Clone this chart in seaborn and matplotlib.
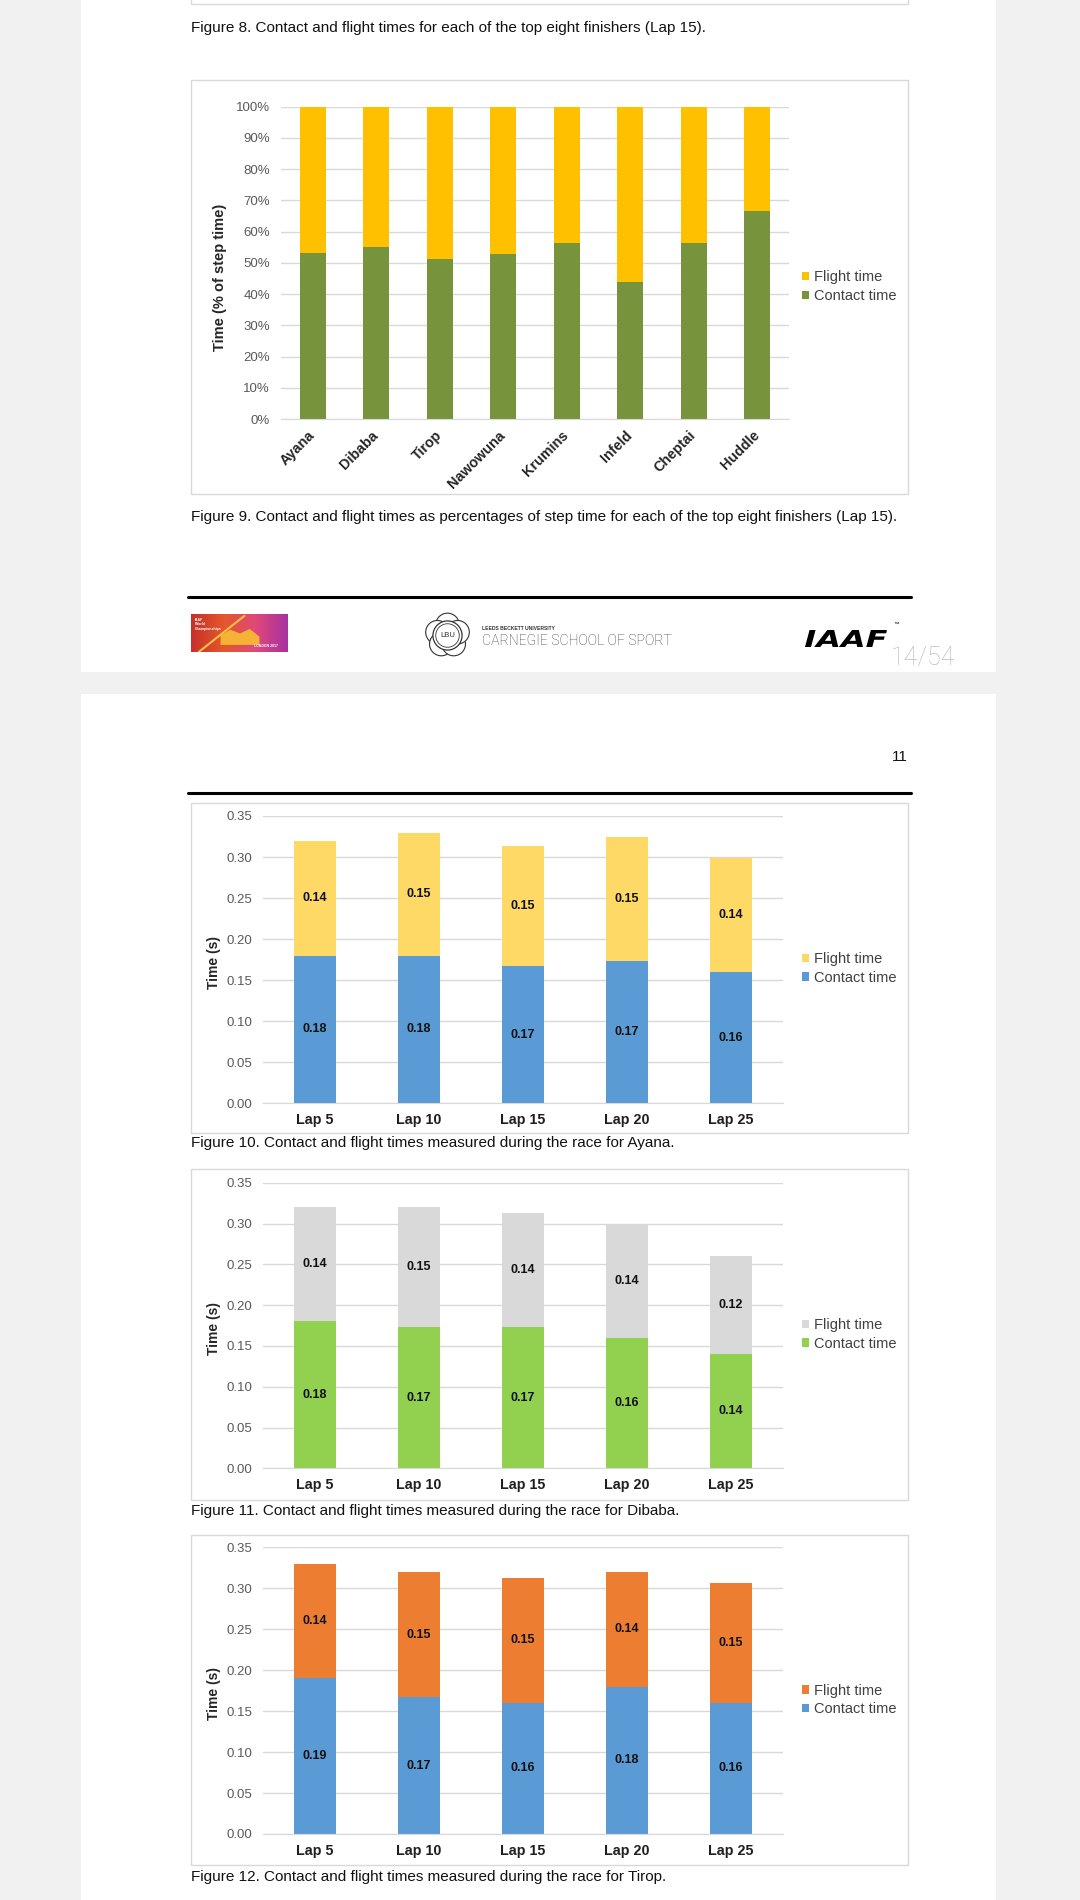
import numpy as np
import seaborn as sns
from matplotlib import pyplot as plt
from matplotlib.patches import Rectangle, Circle, PathPatch
from matplotlib.lines import Line2D
from matplotlib.colors import LinearSegmentedColormap
from matplotlib.textpath import TextPath
from matplotlib.font_manager import FontProperties
from matplotlib.transforms import Affine2D
from matplotlib.ticker import PercentFormatter, MultipleLocator, FormatStrFormatter

# Figure 9 - % of step time, lap 15
finishers = ['Ayana', 'Dibaba', 'Tirop', 'Nawowuna', 'Krumins', 'Infeld', 'Cheptai', 'Huddle']
contact_pct = [53.1, 55.2, 51.1, 52.9, 56.2, 43.8, 56.2, 66.6]
flight_pct = [46.9, 44.8, 48.9, 47.1, 43.8, 56.2, 43.8, 33.4]

# Figures 10-12 - seconds per lap
laps = ['Lap 5', 'Lap 10', 'Lap 15', 'Lap 20', 'Lap 25']
ayana_contact = [0.180, 0.180, 0.167, 0.173, 0.160]
ayana_flight = [0.140, 0.149, 0.146, 0.152, 0.139]
dibaba_contact = [0.180, 0.173, 0.173, 0.160, 0.140]
dibaba_flight = [0.140, 0.147, 0.140, 0.140, 0.120]
tirop_contact = [0.190, 0.167, 0.160, 0.180, 0.160]
tirop_flight = [0.140, 0.153, 0.153, 0.140, 0.147]

sns.set_style('white')
plt.rcParams['font.family'] = ['Liberation Sans', 'DejaVu Sans']

W, H = 1080, 1900
fig = plt.figure(figsize=(W / 100, H / 100), dpi=100)
fig.patch.set_facecolor('#F1F1F1')


def fy(y):
    return 1 - y / H


def rect(x0, y0, x1, y1):
    return [x0 / W, 1 - y1 / H, (x1 - x0) / W, (y1 - y0) / H]


def box(x0, y0, x1, y1, fc='white', ec='none', lw=0, z=-3):
    fig.add_artist(Rectangle((x0 / W, 1 - y1 / H), (x1 - x0) / W, (y1 - y0) / H,
                             transform=fig.transFigure, facecolor=fc, edgecolor=ec,
                             linewidth=lw, zorder=z))


def hline(y, x0, x1, lw=2.2):
    fig.add_artist(Line2D([x0 / W, x1 / W], [fy(y), fy(y)], transform=fig.transFigure,
                          color='black', lw=lw, zorder=-1))


def caption(y, s):
    fig.text(191 / W, fy(y), s, fontsize=11, va='center', ha='left', color='#111111')


# pages
box(81, -10, 996, 672)
box(81, 694, 996, 1910)

# chart frames
for y0, y1 in [(-10, 4), (80, 494), (803, 1133), (1169, 1500), (1535, 1865)]:
    box(191, y0, 908, y1, fc='white', ec='#D9D9D9', lw=1.0, z=-2)

caption(28, 'Figure 8. Contact and flight times for each of the top eight finishers (Lap 15).')
caption(517, 'Figure 9. Contact and flight times as percentages of step time for each of the top eight finishers (Lap 15).')
caption(1143, 'Figure 10. Contact and flight times measured during the race for Ayana.')
caption(1511, 'Figure 11. Contact and flight times measured during the race for Dibaba.')
caption(1877, 'Figure 12. Contact and flight times measured during the race for Tirop.')
fig.text(908 / W, fy(757), '11', fontsize=11, ha='right', va='center', color='#111111')

hline(597, 188, 911)
hline(793, 188, 911)


def stacked(ax, cats, contact, flight, c_contact, c_flight, width):
    total = [c + f for c, f in zip(contact, flight)]
    sns.barplot(x=cats, y=total, color=c_flight, saturation=1, width=width,
                errorbar=None, linewidth=0, ax=ax, label='Flight time')
    sns.barplot(x=cats, y=contact, color=c_contact, saturation=1, width=width,
                errorbar=None, linewidth=0, ax=ax, label='Contact time')
    ax.set_xlim(-0.5, len(cats) - 0.5)
    ax.set_facecolor('none')
    sns.despine(ax=ax, left=True)
    ax.spines['bottom'].set_color('#D9D9D9')
    ax.yaxis.grid(True, color='#D9D9D9', lw=1.0)
    ax.set_axisbelow(True)
    ax.tick_params(axis='both', length=0)
    ax.tick_params(axis='y', labelsize=9.5, labelcolor='#595959', pad=8)
    ax.set_xlabel('')
    return total


def legend(ax, yc):
    ax.legend(loc='center left', bbox_to_anchor=(802 / W, fy(yc)), bbox_transform=fig.transFigure,
              frameon=False, fontsize=10.5, labelcolor='#404040', handlelength=0.5,
              handleheight=0.5, handletextpad=0.35, labelspacing=0.32, borderpad=0,
              borderaxespad=0)


# Figure 9
ax9 = fig.add_axes(rect(281, 106.7, 789, 419))
stacked(ax9, finishers, contact_pct, flight_pct, '#77933C', '#FFC000', 0.41)
ax9.set_ylim(0, 100)
ax9.yaxis.set_major_locator(MultipleLocator(10))
ax9.yaxis.set_major_formatter(PercentFormatter(xmax=100, decimals=0))
ax9.set_xticks(range(len(finishers)))
ax9.set_xticklabels(finishers, rotation=45, ha='right', va='center', rotation_mode='anchor',
                    fontweight='bold', fontsize=10.3, color='#262626')
ax9.tick_params(axis='x', pad=10)
ax9.set_ylabel('Time (% of step time)', fontweight='bold', fontsize=10.5, color='#262626')
ax9.yaxis.set_label_coords(-0.106, 0.455)
legend(ax9, 286.7)


def lap_chart(top, bottom, contact, flight, c_contact, c_flight, leg_y):
    ax = fig.add_axes(rect(263, top, 783, bottom))
    stacked(ax, laps, contact, flight, c_contact, c_flight, 0.40)
    ax.set_ylim(0, 0.35)
    ax.yaxis.set_major_locator(MultipleLocator(0.05))
    ax.yaxis.set_major_formatter(FormatStrFormatter('%.2f'))
    ax.tick_params(axis='x', pad=7)
    plt.setp(ax.get_xticklabels(), fontweight='bold', fontsize=10.3, color='#1F1F1F')
    ax.set_ylabel('Time (s)', fontweight='bold', fontsize=10, color='#262626')
    ax.yaxis.set_label_coords(-0.08, 0.49)
    ax.bar_label(ax.containers[1], labels=[f'{c:.2f}' for c in contact], label_type='center',
                 fontsize=9, fontweight='bold', color='#111111')
    for i, (c, f) in enumerate(zip(contact, flight)):
        ax.text(i, c + f / 2, f'{f:.2f}', ha='center', va='center', fontsize=9,
                fontweight='bold', color='#111111')
    legend(ax, leg_y)
    return ax


lap_chart(816, 1103.3, ayana_contact, ayana_flight, '#5B9BD5', '#FFD966', 968.3)
lap_chart(1182.7, 1468.3, dibaba_contact, dibaba_flight, '#92D050', '#D9D9D9', 1334.3)
lap_chart(1547.3, 1834, tirop_contact, tirop_flight, '#5B9BD5', '#ED7D31', 1700)

# footer logos
axl = fig.add_axes(rect(191, 614, 288, 652))
cmap = LinearSegmentedColormap.from_list('ldn', ['#C8302A', '#E4572C', '#E0487A', '#A7339F'])
axl.imshow(np.linspace(0, 1, 64).reshape(1, -1), cmap=cmap, aspect='auto', extent=[0, 1, 0, 1])
axl.plot([0.08, 0.55], [0.0, 0.95], color='#F6C343', lw=1.5)
axl.fill_between([0.3, 0.4, 0.5, 0.6, 0.7], [0.2] * 5, [0.45, 0.6, 0.5, 0.62, 0.42],
                 color='#F5B335', lw=0)
axl.text(0.04, 0.9, 'IAAF\nWorld\nChampionships', color='white', fontsize=2.5, va='top',
         fontweight='bold')
axl.text(0.9, 0.1, 'LONDON 2017', color='white', fontsize=2.5, ha='right', va='bottom',
         fontweight='bold')
axl.set_xlim(0, 1)
axl.set_ylim(0, 1)
axl.axis('off')

axr = fig.add_axes(rect(424, 612, 471, 659))
axr.set_xlim(-1, 1)
axr.set_ylim(-1, 1)
axr.set_aspect('equal')
axr.axis('off')
for a in range(5):
    t = np.pi / 2 + a * 2 * np.pi / 5
    axr.add_patch(Circle((0.45 * np.cos(t), 0.45 * np.sin(t)), 0.5, fc='white', ec='#333333', lw=0.8))
axr.add_patch(Circle((0, 0), 0.62, fc='white', ec='#333333', lw=0.9))
axr.add_patch(Circle((0, 0), 0.5, fc='white', ec='#333333', lw=0.6))
axr.text(0, 0, 'LBU', ha='center', va='center', fontsize=5.5, color='#333333')

fig.text(482 / W, fy(628), 'LEEDS BECKETT UNIVERSITY', fontsize=3.6, fontweight='bold',
         color='#333333', va='center')
fig.text(482 / W, fy(641), 'CARNEGIE SCHOOL OF SPORT', fontsize=10.1, color='#3F3F3F',
         va='center', family=['Roboto', 'DejaVu Sans'], fontweight='light')

# IAAF wordmark, stretched to the logo's wide box
iaaf = TextPath((0, 0), 'IAAF', size=100,
                prop=FontProperties(family='DejaVu Sans', weight='bold', style='italic'))
ext = iaaf.get_extents()
tr = (Affine2D().translate(-ext.x0, -ext.y0)
      .scale(82 / ext.width, 17 / ext.height).translate(805, H - 647))
fig.add_artist(PathPatch(iaaf, transform=tr, fc='black', lw=0))
fig.text(893 / W, fy(624), '™', fontsize=4, color='black', va='center')
fig.text(891 / W, fy(658), '14/54', fontsize=18, color='#BDBDBD', va='center',
         family=['Roboto', 'DejaVu Sans'], fontweight='light')

fig.savefig('out.png', dpi=100, facecolor=fig.get_facecolor())
